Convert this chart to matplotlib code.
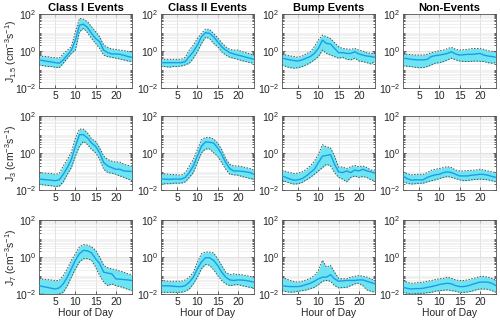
import numpy as np
import matplotlib
matplotlib.use('Agg')
import matplotlib.pyplot as plt
from matplotlib.ticker import LogLocator, NullFormatter

plt.rcParams['font.family'] = ['Liberation Sans', 'DejaVu Sans']
plt.rcParams['mathtext.default'] = 'regular'

hours = list(range(1, 25))
titles = ['Class I Events', 'Class II Events', 'Bump Events', 'Non-Events']
ylabels = ['J$_{1.5}$ (cm$^{-3}$s$^{-1}$)', 'J$_{3}$ (cm$^{-3}$s$^{-1}$)', 'J$_{7}$ (cm$^{-3}$s$^{-1}$)']

# log10 of median / upper / lower rates
# row 1: J1.5
c1_j15_med = [-0.48,-0.52,-0.56,-0.59,-0.63,-0.66,-0.48,-0.22,0.05,0.59,1.40,1.45,1.27,0.95,0.68,0.50,0.05,-0.09,-0.16,-0.16,-0.18,-0.23,-0.30,-0.34]
c1_j15_hi = [-0.27,-0.29,-0.30,-0.34,-0.36,-0.39,-0.16,0.05,0.23,1.04,1.76,1.72,1.58,1.31,1.04,0.77,0.32,0.20,0.11,0.09,0.05,0.02,-0.02,-0.04]
c1_j15_lo = [-0.75,-0.79,-0.83,-0.84,-0.88,-0.90,-0.66,-0.39,-0.13,0.05,1.04,1.22,0.99,0.68,0.41,0.14,-0.22,-0.30,-0.34,-0.39,-0.43,-0.48,-0.54,-0.57]
c2_j15_med = [-0.63,-0.63,-0.63,-0.63,-0.63,-0.63,-0.57,-0.30,-0.04,0.32,0.77,0.99,0.95,0.77,0.50,0.23,0.05,-0.09,-0.16,-0.22,-0.27,-0.34,-0.39,-0.45]
c2_j15_hi = [-0.45,-0.45,-0.45,-0.45,-0.45,-0.45,-0.34,0.05,0.32,0.68,0.95,1.18,1.17,0.95,0.72,0.45,0.23,0.09,0.05,0.05,-0.02,-0.09,-0.16,-0.22]
c2_j15_lo = [-0.84,-0.84,-0.88,-0.84,-0.84,-0.81,-0.75,-0.66,-0.39,-0.04,0.41,0.74,0.68,0.41,0.23,-0.04,-0.22,-0.34,-0.39,-0.45,-0.52,-0.57,-0.63,-0.66]
bu_j15_med = [-0.39,-0.43,-0.48,-0.52,-0.54,-0.48,-0.39,-0.30,-0.13,0.14,0.59,0.41,0.38,0.14,-0.09,-0.09,-0.13,-0.13,-0.04,-0.16,-0.22,-0.27,-0.30,-0.34]
bu_j15_hi = [-0.18,-0.22,-0.27,-0.30,-0.34,-0.27,-0.16,-0.04,0.23,0.59,0.86,0.77,0.68,0.45,0.23,0.14,0.11,0.09,0.14,0.05,0.0,-0.09,-0.13,-0.13]
bu_j15_lo = [-0.75,-0.84,-0.90,-0.93,-0.90,-0.84,-0.75,-0.63,-0.48,-0.30,0.05,-0.13,-0.22,-0.30,-0.39,-0.34,-0.45,-0.48,-0.39,-0.54,-0.57,-0.63,-0.70,-0.57]
ne_j15_med = [-0.39,-0.41,-0.45,-0.47,-0.48,-0.48,-0.45,-0.30,-0.25,-0.22,-0.18,-0.13,-0.04,-0.16,-0.22,-0.20,-0.18,-0.18,-0.16,-0.13,-0.22,-0.27,-0.30,-0.34]
ne_j15_hi = [-0.16,-0.18,-0.20,-0.22,-0.22,-0.22,-0.18,-0.09,-0.04,0.02,0.05,0.13,0.20,0.09,0.05,0.07,0.09,0.13,0.14,0.13,0.09,0.02,-0.02,-0.04]
ne_j15_lo = [-0.81,-0.82,-0.84,-0.88,-0.90,-0.90,-0.84,-0.75,-0.66,-0.63,-0.57,-0.48,-0.39,-0.48,-0.54,-0.57,-0.57,-0.56,-0.54,-0.56,-0.57,-0.63,-0.66,-0.63]
# row 2: J3
c1_j3_med = [-1.41,-1.43,-1.45,-1.47,-1.50,-1.45,-1.15,-0.79,-0.35,0.36,0.99,0.99,0.81,0.54,0.36,0.01,-0.52,-0.70,-0.79,-0.88,-0.88,-0.97,-0.99,-1.00]
c1_j3_hi = [-1.06,-1.08,-1.09,-1.11,-1.15,-1.11,-0.70,-0.35,0.04,0.81,1.29,1.29,1.08,0.76,0.63,0.28,-0.17,-0.35,-0.44,-0.49,-0.49,-0.61,-0.67,-0.70]
c1_j3_lo = [-1.68,-1.72,-1.75,-1.77,-1.80,-1.80,-1.56,-1.15,-0.79,-0.17,0.36,0.63,0.45,0.19,0.01,-0.35,-0.88,-1.06,-1.09,-1.15,-1.24,-1.32,-1.41,-1.50]
c2_j3_med = [-1.41,-1.41,-1.43,-1.41,-1.41,-1.41,-1.32,-1.06,-0.70,-0.17,0.36,0.60,0.58,0.54,0.28,-0.08,-0.52,-0.84,-0.97,-0.97,-0.99,-1.02,-1.06,-1.15]
c2_j3_hi = [-1.11,-1.13,-1.15,-1.16,-1.18,-1.20,-1.06,-0.70,-0.35,0.19,0.72,0.84,0.84,0.76,0.54,0.19,-0.31,-0.61,-0.70,-0.70,-0.74,-0.79,-0.84,-0.92]
c2_j3_lo = [-1.68,-1.66,-1.66,-1.64,-1.63,-1.63,-1.56,-1.32,-1.06,-0.52,0.01,0.22,0.22,0.01,-0.17,-0.52,-0.88,-1.15,-1.18,-1.20,-1.27,-1.32,-1.38,-1.41]
bu_j3_med = [-1.24,-1.32,-1.41,-1.47,-1.45,-1.38,-1.24,-1.06,-0.88,-0.52,-0.17,-0.13,-0.08,-0.61,-1.02,-1.06,-0.97,-1.06,-0.92,-0.97,-0.88,-0.97,-1.02,-1.09]
bu_j3_hi = [-0.93,-1.00,-1.06,-1.11,-1.09,-1.02,-0.88,-0.70,-0.44,-0.08,0.45,0.33,0.28,-0.17,-0.76,-0.76,-0.84,-0.74,-0.67,-0.74,-0.70,-0.79,-0.92,-0.92]
bu_j3_lo = [-1.47,-1.56,-1.63,-1.68,-1.66,-1.59,-1.45,-1.32,-1.15,-0.97,-0.79,-0.61,-0.70,-1.06,-1.32,-1.41,-1.56,-1.32,-1.24,-1.32,-1.27,-1.32,-1.45,-1.50]
ne_j3_med = [-1.24,-1.38,-1.47,-1.45,-1.45,-1.45,-1.32,-1.24,-1.18,-1.15,-1.06,-1.02,-1.06,-1.15,-1.24,-1.24,-1.24,-1.20,-1.18,-1.15,-1.16,-1.20,-1.27,-1.32]
ne_j3_hi = [-1.02,-1.11,-1.18,-1.16,-1.15,-1.15,-1.06,-0.93,-0.88,-0.84,-0.79,-0.74,-0.79,-0.92,-0.97,-0.97,-0.95,-0.93,-0.92,-0.88,-0.92,-0.97,-1.02,-1.06]
ne_j3_lo = [-1.56,-1.63,-1.68,-1.66,-1.64,-1.63,-1.56,-1.50,-1.45,-1.38,-1.32,-1.27,-1.32,-1.38,-1.45,-1.50,-1.48,-1.45,-1.43,-1.41,-1.43,-1.45,-1.50,-1.56]
# row 3: J7
c1_j7_med = [-1.55,-1.60,-1.64,-1.69,-1.73,-1.67,-1.45,-1.09,-0.64,-0.18,0.18,0.36,0.33,0.22,-0.09,-0.36,-0.82,-0.87,-0.91,-1.18,-1.20,-1.22,-1.24,-1.27]
c1_j7_hi = [-1.18,-1.20,-1.22,-1.24,-1.27,-1.27,-1.00,-0.64,-0.18,0.18,0.55,0.67,0.64,0.55,0.36,0.0,-0.45,-0.58,-0.64,-0.69,-0.76,-0.82,-0.91,-0.96]
c1_j7_lo = [-2.0,-2.0,-2.04,-2.04,-2.04,-2.0,-1.91,-1.55,-1.09,-0.64,-0.27,-0.09,-0.09,-0.18,-0.55,-1.0,-1.36,-1.55,-1.45,-1.55,-1.60,-1.67,-1.75,-1.82]
c2_j7_med = [-1.55,-1.56,-1.56,-1.58,-1.60,-1.60,-1.55,-1.36,-1.09,-0.64,-0.27,-0.04,-0.04,-0.18,-0.45,-0.82,-1.09,-1.24,-1.27,-1.24,-1.25,-1.27,-1.31,-1.36]
c2_j7_hi = [-1.27,-1.29,-1.31,-1.31,-1.31,-1.31,-1.24,-1.09,-0.82,-0.27,0.18,0.27,0.27,0.22,-0.09,-0.45,-0.82,-0.95,-0.91,-0.95,-0.96,-1.0,-1.05,-1.09]
c2_j7_lo = [-1.91,-1.91,-1.91,-1.91,-1.91,-1.91,-1.85,-1.73,-1.45,-1.09,-0.64,-0.40,-0.45,-0.69,-1.0,-1.27,-1.45,-1.55,-1.51,-1.49,-1.55,-1.60,-1.64,-1.67]
bu_j7_med = [-1.55,-1.58,-1.60,-1.60,-1.60,-1.56,-1.49,-1.42,-1.31,-1.18,-1.09,-1.09,-0.96,-1.18,-1.31,-1.29,-1.27,-1.27,-1.27,-1.24,-1.24,-1.31,-1.38,-1.45]
bu_j7_hi = [-1.09,-1.18,-1.27,-1.33,-1.36,-1.31,-1.24,-1.15,-1.0,-0.73,-0.18,-0.55,-0.45,-0.82,-1.15,-1.18,-1.18,-1.09,-1.05,-1.0,-1.04,-1.09,-1.18,-1.27]
bu_j7_lo = [-1.82,-1.87,-1.91,-1.89,-1.85,-1.82,-1.78,-1.71,-1.64,-1.49,-1.31,-1.27,-1.31,-1.55,-1.67,-1.65,-1.64,-1.55,-1.45,-1.42,-1.55,-1.78,-1.85,-1.91]
ne_j7_med = [-1.64,-1.69,-1.73,-1.71,-1.71,-1.69,-1.64,-1.60,-1.55,-1.49,-1.45,-1.42,-1.45,-1.55,-1.60,-1.60,-1.56,-1.49,-1.42,-1.36,-1.35,-1.36,-1.42,-1.55]
ne_j7_hi = [-1.27,-1.36,-1.42,-1.40,-1.38,-1.36,-1.31,-1.27,-1.22,-1.18,-1.15,-1.09,-1.15,-1.24,-1.27,-1.27,-1.24,-1.18,-1.13,-1.05,-1.05,-1.09,-1.15,-1.27]
ne_j7_lo = [-1.91,-1.96,-2.0,-1.98,-1.96,-1.96,-1.93,-1.91,-1.85,-1.82,-1.80,-1.78,-1.82,-1.85,-1.91,-1.91,-1.89,-1.85,-1.78,-1.73,-1.73,-1.75,-1.82,-1.91]

panels = [
    [(c1_j15_med, c1_j15_hi, c1_j15_lo), (c2_j15_med, c2_j15_hi, c2_j15_lo),
     (bu_j15_med, bu_j15_hi, bu_j15_lo), (ne_j15_med, ne_j15_hi, ne_j15_lo)],
    [(c1_j3_med, c1_j3_hi, c1_j3_lo), (c2_j3_med, c2_j3_hi, c2_j3_lo),
     (bu_j3_med, bu_j3_hi, bu_j3_lo), (ne_j3_med, ne_j3_hi, ne_j3_lo)],
    [(c1_j7_med, c1_j7_hi, c1_j7_lo), (c2_j7_med, c2_j7_hi, c2_j7_lo),
     (bu_j7_med, bu_j7_hi, bu_j7_lo), (ne_j7_med, ne_j7_hi, ne_j7_lo)],
]

W, H = 500, 324
fig = plt.figure(figsize=(W / 100, H / 100), dpi=100)
lefts = [39, 161, 282, 403]
tops = [14, 116, 220]
aw, ah = 93, 74

fill_c = '#6de4f1'
line_c = '#1f9be6'
axc = '#262626'

for r in range(3):
    for c in range(4):
        ax = fig.add_axes([lefts[c] / W, 1 - (tops[r] + ah) / H, aw / W, ah / H])
        med, hi, lo = [10 ** np.array(v) for v in panels[r][c]]
        ax.fill_between(hours, lo, hi, color=fill_c, lw=0, zorder=2)
        ax.plot(hours, hi, ls=(0, (1.5, 1.5)), color='#505050', lw=0.7, zorder=3)
        ax.plot(hours, lo, ls=(0, (1.5, 1.5)), color='#505050', lw=0.7, zorder=3)
        ax.plot(hours, med, color=line_c, lw=1.0, zorder=4)
        ax.set_yscale('log')
        ax.set_ylim(1e-2, 1e2)
        ax.set_xlim(1, 24)
        ax.set_xticks([5, 10, 15, 20])
        ax.set_yticks([1e-2, 1e0, 1e2])
        ax.yaxis.set_minor_locator(LogLocator(base=10, subs=np.arange(2, 10), numticks=20))
        ax.yaxis.set_minor_formatter(NullFormatter())
        ax.grid(True, which='major', color='#dcdcdc', lw=0.6, zorder=0)
        ax.grid(True, which='minor', axis='y', color='#ebebeb', lw=0.5, zorder=0)
        ax.set_axisbelow(True)
        ax.tick_params(which='both', direction='in', top=True, right=True,
                       labelsize=7.5, colors=axc, length=2.5, width=0.5, pad=2)
        ax.tick_params(which='minor', length=1.2)
        for s in ax.spines.values():
            s.set_color('#555555')
            s.set_linewidth(0.6)
        if r == 0:
            ax.set_title(titles[c], fontsize=8, fontweight='bold', pad=2, color='black')
        if c == 0:
            ax.set_ylabel(ylabels[r], fontsize=7.5, color=axc)
            ax.yaxis.set_label_coords(-0.215, 0.5)
        if r == 2:
            ax.set_xlabel('Hour of Day', fontsize=7.5, color=axc, labelpad=1)

fig.savefig('out.png', dpi=100)
